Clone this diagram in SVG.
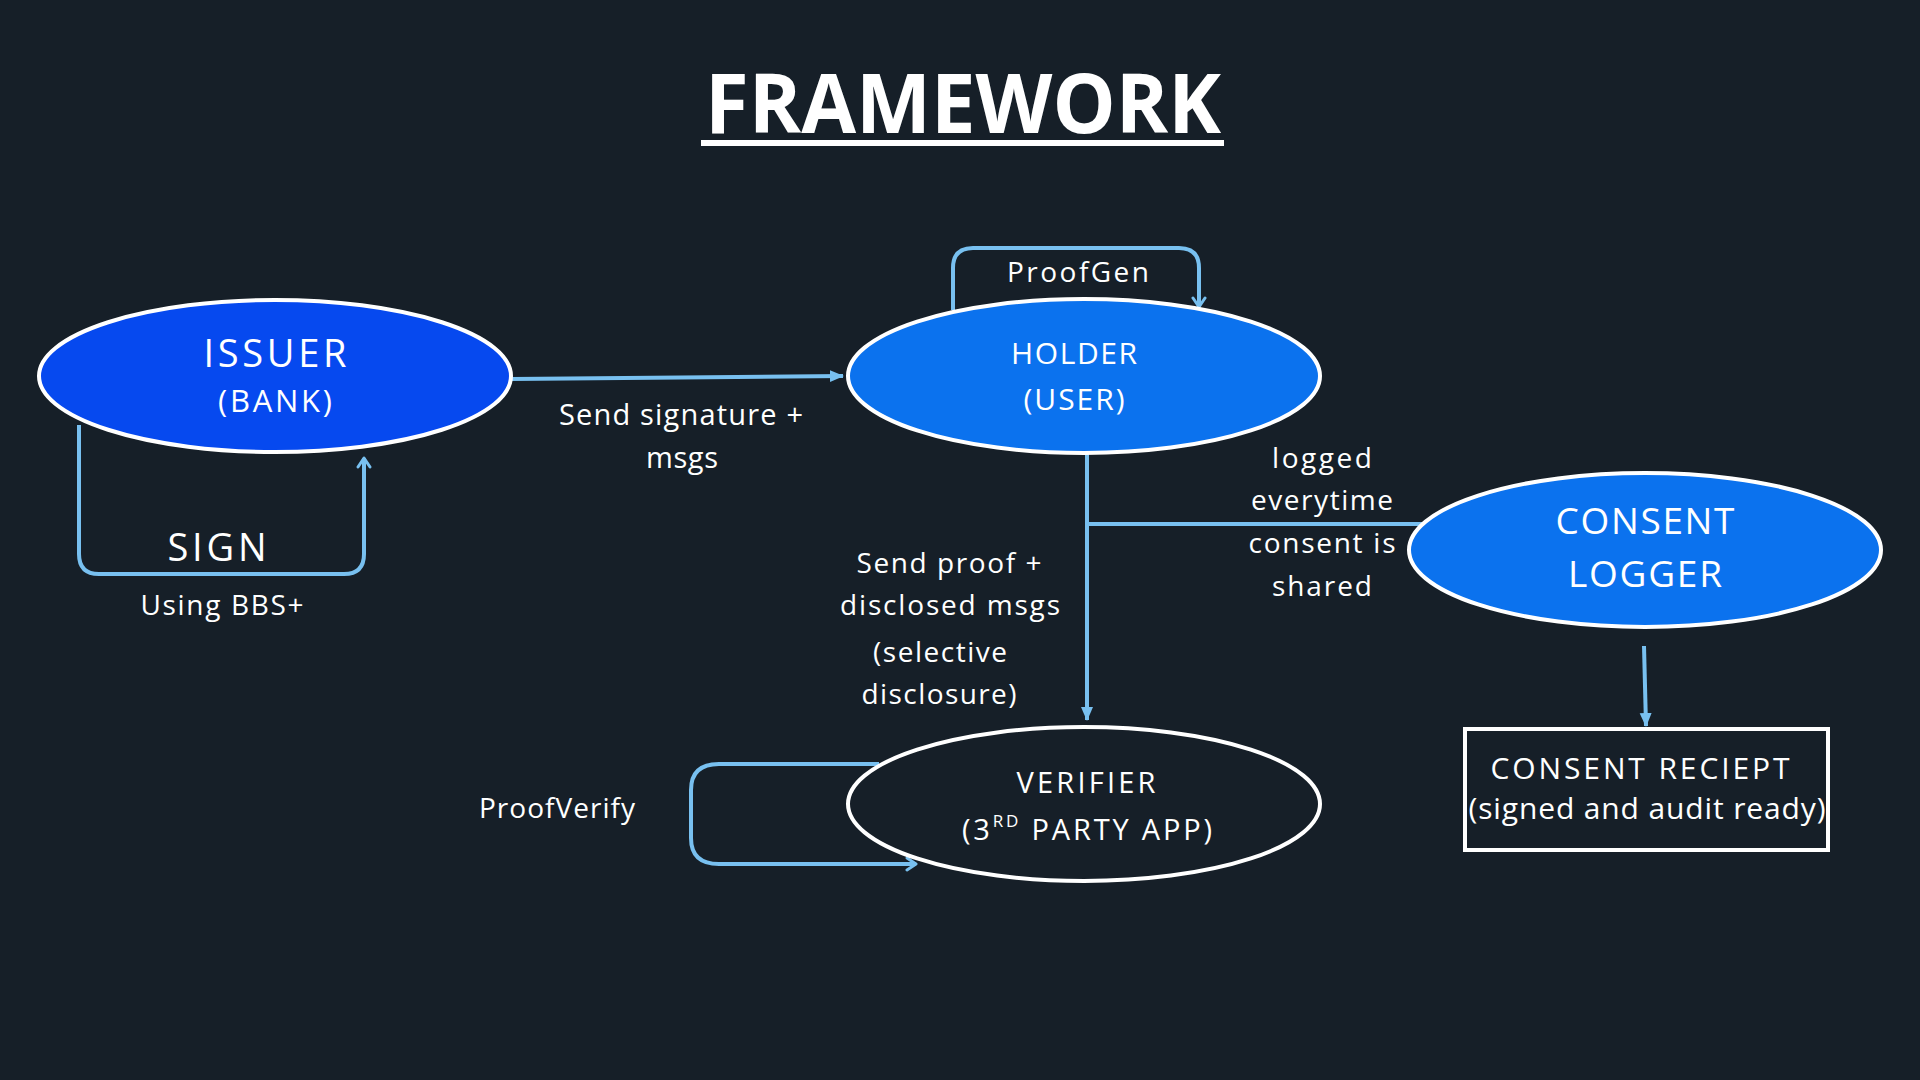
<svg xmlns="http://www.w3.org/2000/svg" width="1920" height="1080" viewBox="0 0 1920 1080">
<defs>
<style>
.t{font-family:"Open Sans","Liberation Sans",sans-serif;fill:#ffffff;text-anchor:middle}
.c{fill:none;stroke:#78C0F0;stroke-width:4;stroke-linejoin:round}
.n{stroke:#ffffff;stroke-width:4}
</style>
<marker id="tri" markerUnits="userSpaceOnUse" markerWidth="14" markerHeight="14" refX="13" refY="7" orient="auto">
<path d="M0,1 L14,7 L0,13 z" fill="#78C0F0"/>
</marker>
<marker id="chev" markerUnits="userSpaceOnUse" markerWidth="16" markerHeight="16" refX="12" refY="8" orient="auto">
<path d="M3,2 L12,8 L3,14" fill="none" stroke="#78C0F0" stroke-width="3" stroke-linecap="round" stroke-linejoin="round"/>
</marker>
</defs>
<rect x="0" y="0" width="1920" height="1080" fill="#161F28"/>

<g id="title">
<text class="t" x="963" y="133" font-size="82" font-weight="700" textLength="516" lengthAdjust="spacingAndGlyphs">FRAMEWORK</text>
<rect x="701" y="140" width="523" height="6" fill="#ffffff"/>
</g>

<g id="connectors">
<path class="c" d="M512,379 L843,376" marker-end="url(#tri)"/>
<path class="c" d="M79,425 V554 Q79,574 99,574 H344 Q364,574 364,554 V458" marker-end="url(#chev)"/>
<path class="c" d="M953,310 V268 Q953,248 973,248 H1179 Q1199,248 1199,268 V307" marker-end="url(#chev)"/>
<path class="c" d="M1087,454 V720" marker-end="url(#tri)"/>
<path class="c" d="M1087,524 H1423"/>
<path class="c" d="M1644,646 L1646,726" marker-end="url(#tri)"/>
<path class="c" d="M879,764 H719 Q691,764 691,790 V838 Q691,864 719,864 H916" marker-end="url(#chev)"/>
<text class="t" x="681" y="425" font-size="29" textLength="244">Send signature +</text>
<text class="t" x="682" y="468" font-size="29" textLength="72">msgs</text>
<text class="t" x="1078" y="282" font-size="28" textLength="142">ProofGen</text>
<text class="t" x="217" y="561" font-size="38" textLength="99">SIGN</text>
<text class="t" x="222" y="615" font-size="28" textLength="163">Using BBS+</text>
<text class="t" x="949" y="573" font-size="28" textLength="185">Send proof +</text>
<text class="t" x="950" y="615" font-size="28" textLength="220">disclosed msgs</text>
<text class="t" x="940" y="662" font-size="28" textLength="134">(selective</text>
<text class="t" x="939" y="704" font-size="28" textLength="155">disclosure)</text>
<text class="t" x="1322" y="468" font-size="28" textLength="100">logged</text>
<text class="t" x="1322" y="510" font-size="28" textLength="142">everytime</text>
<text class="t" x="1322" y="553" font-size="28" textLength="147">consent is</text>
<text class="t" x="1322" y="596" font-size="28" textLength="100">shared</text>
<text class="t" x="557" y="818" font-size="28" textLength="156">ProofVerify</text>
</g>

<g id="issuer">
<ellipse class="n" cx="275" cy="376" rx="236" ry="76" fill="#0649EF"/>
<text class="t" x="275" y="367" font-size="38" textLength="143">ISSUER</text>
<text class="t" x="275" y="412" font-size="31" textLength="114">(BANK)</text>
</g>

<g id="holder">
<ellipse class="n" cx="1084" cy="376" rx="236" ry="77" fill="#0B72EE"/>
<text class="t" x="1074" y="364" font-size="30" textLength="126">HOLDER</text>
<text class="t" x="1074" y="410" font-size="30" textLength="101">(USER)</text>
</g>

<g id="consent-logger">
<ellipse class="n" cx="1645" cy="550" rx="236" ry="77" fill="#0B72EE"/>
<text class="t" x="1645" y="534" font-size="37" textLength="179">CONSENT</text>
<text class="t" x="1645" y="587" font-size="37" textLength="154">LOGGER</text>
</g>

<g id="verifier">
<ellipse class="n" cx="1084" cy="804" rx="236" ry="77" fill="#161F28"/>
<text class="t" x="1086" y="793" font-size="29" textLength="139">VERIFIER</text>
<text class="t" x="1087" y="840" font-size="29" textLength="250">(3<tspan font-size="17" dy="-13">RD</tspan><tspan dy="13"> PARTY APP)</tspan></text>
</g>

<g id="consent-receipt">
<rect class="n" x="1465" y="729" width="363" height="121" fill="none"/>
<text class="t" x="1640" y="779" font-size="30" textLength="299">CONSENT RECIEPT</text>
<text class="t" x="1647" y="819" font-size="30" textLength="357">(signed and audit ready)</text>
</g>
</svg>
